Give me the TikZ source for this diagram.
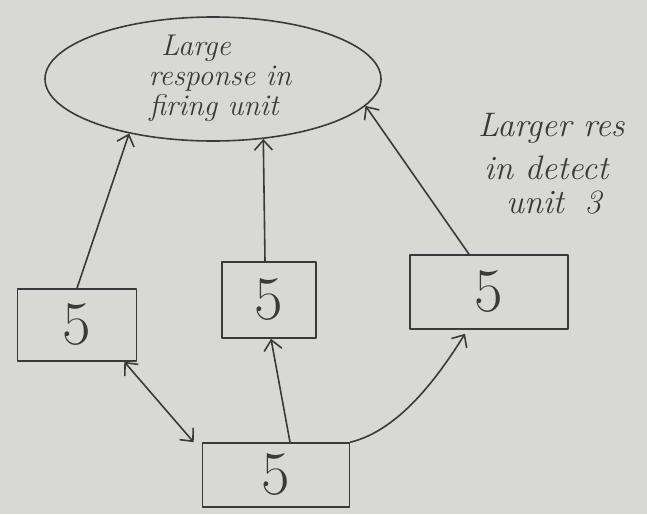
\documentclass[tikz,border=0pt]{standalone}
\usetikzlibrary{arrows.meta,shapes.geometric}
\definecolor{paper}{HTML}{D8D8D4}
\definecolor{inkc}{HTML}{3A3A3A}
\begin{document}
\begin{tikzpicture}[x=1pt,y=-1pt,
  ink/.style={draw=inkc, line width=1.6pt, line cap=round, line join=round},
  unitbox/.style={ink, rectangle, inner sep=0pt, text=inkc,
    font=\fontsize{62}{62}\selectfont},
  note/.style={text=inkc, font=\itshape\fontsize{30}{30}\selectfont, inner sep=0pt},
  sidenote/.style={note, font=\itshape\fontsize{34}{34}\selectfont, anchor=west},
  arr/.style={ink, -{Straight Barb[length=10pt,width=18pt]}},
  darr/.style={ink, {Straight Barb[length=10pt,width=18pt]}-{Straight Barb[length=10pt,width=18pt]}}]
% paper and page size
\fill[paper] (0,0) rectangle (647,514);
\useasboundingbox (0,0) rectangle (647,514);

% the firing unit
\node[ink, ellipse, minimum width=336pt, minimum height=124pt, inner sep=0pt] (ell) at (213,79) {};
\node[note] (l1) at (196,48) {Large};
\node[note] (l2) at (220,79) {response in};
\node[note] (l3) at (214,108) {firing unit};

% side remark at the right edge
\node[sidenote] (r1) at (478,128) {Larger res};
\node[sidenote] (r2) at (484,168) {in detect};
\node[sidenote] (r3) at (506,203) {unit\hspace{0.6em}3};

% detector units
\node[unitbox, minimum width=119pt, minimum height=72pt] (lb) at (77,325) {5};
\node[unitbox, minimum width=94pt, minimum height=76pt] (mb) at (269,300) {5};
\node[unitbox, minimum width=158pt, minimum height=74pt] (rb) at (489,292) {5};
\node[unitbox, minimum width=147pt, minimum height=64pt] (bb) at (276,475) {5};

% connections up to the firing unit
\draw[arr] (lb.north) -- (ell.213);
\draw[arr] ([xshift=-4pt]mb.north) -- (ell.-50);
\draw[arr] ([xshift=-20pt]rb.north) -- (ell.-10);

% connections from the bottom unit
\draw[arr] ([xshift=14pt]bb.north) -- ([xshift=2pt]mb.south);
\draw[darr] ([xshift=-13pt]lb.south east) -- ([xshift=-8pt]bb.north west);
\draw[arr] (bb.north east) .. controls +(50,-12) and +(-25,40) .. ([xshift=-24pt,yshift=-4pt]rb.south);
\end{tikzpicture}
\end{document}
